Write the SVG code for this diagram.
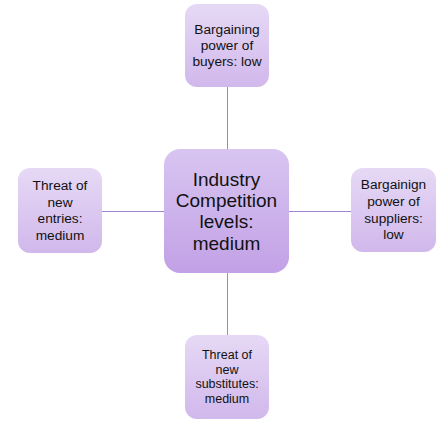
<svg xmlns="http://www.w3.org/2000/svg" width="444" height="424" viewBox="0 0 444 424">
<defs>
<linearGradient id="gs" x1="0" y1="0" x2="0" y2="1">
<stop offset="0" stop-color="#e6d9f5"/>
<stop offset="1" stop-color="#d1b8ec"/>
</linearGradient>
<linearGradient id="gc" x1="0" y1="0" x2="0" y2="1">
<stop offset="0" stop-color="#d8c5f1"/>
<stop offset="1" stop-color="#c2a1e6"/>
</linearGradient>
</defs>
<style>
.s{fill:url(#gs);}
.c{fill:url(#gc);}
.t{font-family:"Liberation Sans",Arial,sans-serif;font-size:13.7px;fill:#111111;text-anchor:middle;}
.tb{font-size:12.5px;}
.tc{font-family:"Liberation Sans",Arial,sans-serif;font-size:19px;fill:#111111;text-anchor:middle;}
.ln{stroke:#a283d2;stroke-width:1;fill:none;}
</style>
<rect width="444" height="424" fill="#ffffff"/>
<g id="connectors">
<line class="ln" x1="227.5" y1="87" x2="227.5" y2="149"/>
<line class="ln" x1="227.5" y1="273" x2="227.5" y2="335"/>
<line class="ln" x1="102" y1="211.5" x2="164" y2="211.5"/>
<line class="ln" x1="289" y1="211.5" x2="351" y2="211.5"/>
</g>
<g id="center">
<rect class="c" x="164" y="149" width="125" height="124" rx="16"/>
<text class="tc" x="226.5" y="186">Industry</text>
<text class="tc" x="226.5" y="207">Competition</text>
<text class="tc" x="226.5" y="228">levels:</text>
<text class="tc" x="226.5" y="250">medium</text>
</g>
<g id="buyers">
<rect class="s" x="185" y="4" width="84" height="83" rx="12"/>
<text class="t" x="227" y="34">Bargaining</text>
<text class="t" x="227" y="50">power of</text>
<text class="t" x="227" y="66">buyers: low</text>
</g>
<g id="entries">
<rect class="s" x="18" y="168" width="84" height="85" rx="12"/>
<text class="t" x="60" y="190">Threat of</text>
<text class="t" x="60" y="206.5">new</text>
<text class="t" x="60" y="223">entries:</text>
<text class="t" x="60" y="240">medium</text>
</g>
<g id="suppliers">
<rect class="s" x="351" y="168" width="85" height="84" rx="12"/>
<text class="t" x="393.5" y="189">Bargainign</text>
<text class="t" x="393.5" y="206">power of</text>
<text class="t" x="393.5" y="222.5">suppliers:</text>
<text class="t" x="393.5" y="239">low</text>
</g>
<g id="substitutes">
<rect class="s" x="185" y="335" width="84" height="84" rx="12"/>
<text class="t tb" x="227" y="359">Threat of</text>
<text class="t tb" x="227" y="373.5">new</text>
<text class="t tb" x="227" y="388">substitutes:</text>
<text class="t tb" x="227" y="402.5">medium</text>
</g>
</svg>
